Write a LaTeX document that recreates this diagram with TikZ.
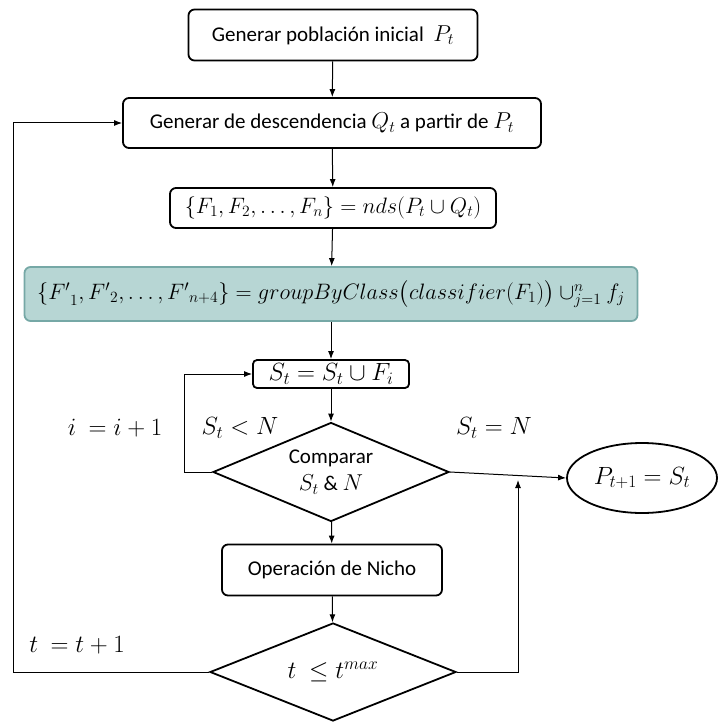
\RequirePackage{fix-cm}
\documentclass[tikz,border=0pt]{standalone}
\usepackage{amsmath, amssymb}
\usepackage{fontspec}
\setmainfont{Carlito}
\DeclareMathSizes{21}{23}{16}{12}
\usepackage{tikz}
\usetikzlibrary{shapes.geometric, arrows.meta}

\definecolor{groupfill}{RGB}{183,214,212}
\definecolor{groupline}{RGB}{118,168,166}

\tikzset{
  proc/.style={draw, line width=1.8pt, rounded corners=6pt, inner sep=0pt,
    font=\fontsize{21}{25}\selectfont},
  formula/.style={proc, font=\fontsize{22.3}{26}\selectfont},
  decide/.style={draw, diamond, shape aspect=2.4, line width=1.8pt, inner sep=0pt, align=center,
    font=\fontsize{21}{25}\selectfont},
  lbl/.style={font=\fontsize{24.9}{29}\selectfont},
}

\begin{document}
\begin{tikzpicture}[x=1pt, y=-1pt, >={Latex[length=8pt,width=6pt]}, line width=1pt]
  \useasboundingbox (0,0) rectangle (720,722);
  % main column
  \node[proc, minimum width=289pt, minimum height=51pt] (init) at (333,35) {Generar población inicial \ $P_t$};
  \node[proc, minimum width=418pt, minimum height=50pt] (offs) at (332,123) {Generar de descendencia $Q_t$ a partir de $P_t$};
  \node[formula, minimum width=326pt, minimum height=40pt] (fronts) at (333,208) {$\{F_1,F_2,\dots,F_n\} = nds(P_t\cup Q_t)$};
  \node[formula, draw=groupline, fill=groupfill, minimum width=613pt, minimum height=54pt] (group) at (331,294)
    {${\{F'}_1,{F'}_2,\dots,{F'}_{n+4}\} = groupByClass\big(classifier(F_1)\big)\cup_{j=1}^{n} f_j$};
  \node[proc, lbl, rounded corners=4pt, minimum width=156pt, minimum height=28pt] (merge) at (331,374) {$S_t = S_t\cup F_i$};
  \node[decide, minimum width=236pt, minimum height=99pt] (cmp) at (331,472) {Comparar\\[2pt]$S_t$ \& $N$};
  \node[draw, ellipse, line width=1.8pt, minimum width=150pt, minimum height=70pt, lbl] (next) at (642,478) {$P_{t+1} = S_t$};
  \node[proc, minimum width=220pt, minimum height=51pt] (niche) at (332,570) {Operación de Nicho};
  \node[decide, lbl, minimum width=246pt, minimum height=98pt] (stop) at (333,672) {$t\ \le t^{max}$};
  % labels
  \node[lbl] (iinc) at (115,428) {$i\ = i+1$};
  \node[lbl] (less) at (240,428) {$S_t < N$};
  \node[lbl] (equal) at (494,428) {$S_t = N$};
  \node[lbl] (tinc) at (77,645) {$t\ = t+1$};
  % connectors
  \draw[->] (init) -- (offs);
  \draw[->] (offs) -- (fronts);
  \draw[->] (fronts) -- (group);
  \draw[->] (group) -- (merge);
  \draw[->] (merge) -- (cmp);
  \draw[->] (cmp) -- (niche);
  \draw[->] (niche) -- (stop);
  \draw[->] (cmp.east) -- (next.west);
  % loops
  \coordinate (iloop) at (184,472);
  \draw[->] (cmp.west) -- (iloop) |- (merge.west);
  \coordinate (tloop) at (13,672);
  \draw[->] (stop.west) -- (tloop) |- (offs.west);
  \coordinate (tout) at (518,672);
  \coordinate (tend) at (518,480);
  \draw[->] (stop.east) -- (tout) -- (tend);
\end{tikzpicture}
\end{document}
